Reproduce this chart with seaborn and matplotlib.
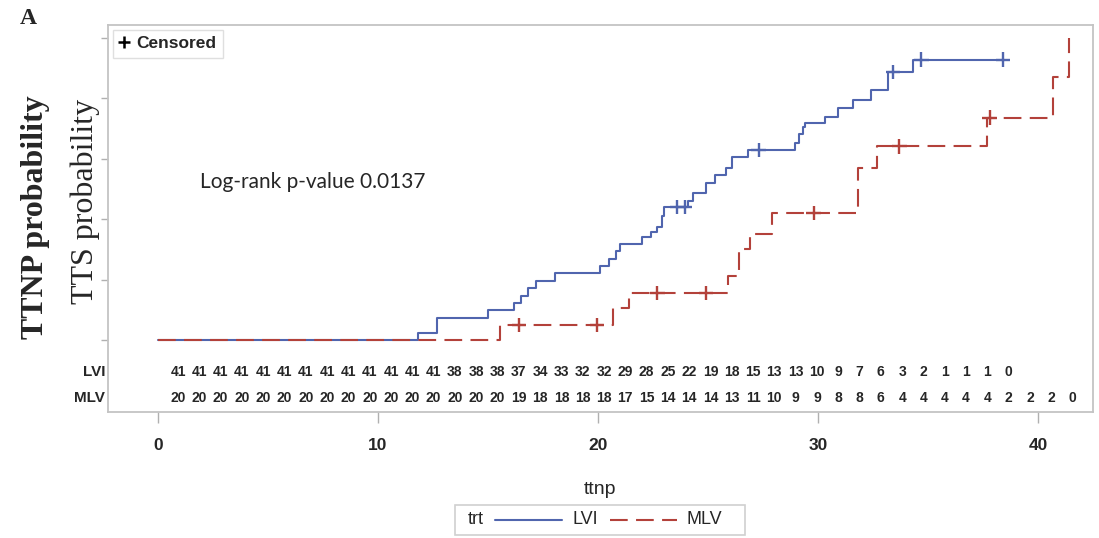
import numpy as np
import pandas as pd
import matplotlib
matplotlib.use("Agg")
import matplotlib.pyplot as plt
import matplotlib.transforms as mtransforms
from matplotlib.lines import Line2D
from matplotlib.patches import Rectangle
import seaborn as sns

# ---------------- data ----------------
groups = ["LVI", "MLV"]

lvi_times = [0, 11.8, 12.7, 15.0, 16.2, 16.5, 16.8, 17.2, 18.05, 20.1, 20.5, 20.8,
             21.0, 22.0, 22.4, 22.7, 22.9, 23.0, 24.1, 24.3, 24.9, 25.3, 25.8, 26.1,
             26.8, 28.95, 29.15, 29.3, 29.4, 30.3, 30.9, 31.6, 32.4, 33.2, 34.3, 38.4]
lvi_prob = [0, 0.024, 0.073, 0.098, 0.122, 0.146, 0.171, 0.195, 0.22, 0.244, 0.268, 0.293,
            0.317, 0.341, 0.356, 0.375, 0.41, 0.44, 0.46, 0.487, 0.52, 0.545, 0.57, 0.605,
            0.628, 0.65, 0.68, 0.705, 0.717, 0.737, 0.767, 0.793, 0.826, 0.886, 0.927, 0.927]
lvi_censor = [23.6, 23.95, 27.3, 33.4, 34.7, 38.4]

mlv_times = [0, 15.55, 20.7, 21.4, 25.9, 26.4, 26.9, 27.9, 31.8, 32.7, 37.7, 40.7, 41.4]
mlv_prob = [0, 0.05, 0.105, 0.156, 0.21, 0.30, 0.35, 0.42, 0.57, 0.64, 0.735, 0.87, 1.0]
mlv_censor = [16.4, 19.95, 22.7, 24.9, 29.8, 33.7, 37.8]

lvi_risk = [41, 41, 41, 41, 41, 41, 41, 41, 41, 41, 41, 41, 41, 38, 38, 38, 37, 34, 33,
            32, 32, 29, 28, 25, 22, 19, 18, 15, 13, 13, 10, 9, 7, 6, 3, 2, 1, 1, 1, 0]
mlv_risk = [20, 20, 20, 20, 20, 20, 20, 20, 20, 20, 20, 20, 20, 20, 20, 20, 19, 18, 18,
            18, 18, 17, 15, 14, 14, 14, 13, 11, 10, 9, 9, 8, 8, 6, 4, 4, 4, 4, 4, 2, 2, 2, 0]

x_ticks = [0, 10, 20, 30, 40]
y_ticks = [0.0, 0.2, 0.4, 0.6, 0.8, 1.0]
pvalue_text = "Log-rank p-value 0.0137"

# ---------------- styling ----------------
BLUE = "#5065ae"
RED = "#b3413a"
palette = {"LVI": BLUE, "MLV": RED}

sns.set_style("white")
plt.rcParams["font.family"] = ["Liberation Sans", "DejaVu Sans"]

W, H = 1099, 538
fig = plt.figure(figsize=(W / 100, H / 100), dpi=100)
L, R, T, B = 108, 1093, 25, 412
ax = fig.add_axes([L / W, 1 - B / H, (R - L) / W, (B - T) / H])

curves = pd.concat([
    pd.DataFrame({"time": lvi_times, "prob": lvi_prob, "trt": "LVI"}),
    pd.DataFrame({"time": mlv_times, "prob": mlv_prob, "trt": "MLV"}),
], ignore_index=True)

sns.lineplot(data=curves, x="time", y="prob", hue="trt", style="trt",
             palette=palette, dashes={"LVI": "", "MLV": (8.5, 4)},
             drawstyle="steps-post", estimator=None, sort=False,
             linewidth=1.5, legend=False, ax=ax)


def step_value(times, probs, t):
    idx = np.searchsorted(times, t, side="right") - 1
    return np.asarray(probs)[idx]


cens = pd.concat([
    pd.DataFrame({"time": lvi_censor, "prob": step_value(lvi_times, lvi_prob, lvi_censor), "trt": "LVI"}),
    pd.DataFrame({"time": mlv_censor, "prob": step_value(mlv_times, mlv_prob, mlv_censor), "trt": "MLV"}),
], ignore_index=True)
sns.scatterplot(data=cens, x="time", y="prob", hue="trt", palette=palette,
                marker="+", s=110, linewidth=1.7, legend=False, ax=ax, zorder=5)

# axes limits (lower part holds the at-risk table)
x_per_px = 1 / 22.0
y_per_px = 1 / 302.5
ax.set_xlim((L - 158) * x_per_px, (R - 158) * x_per_px)
ax.set_ylim((340 - B) * y_per_px, (340 - T) * y_per_px)

ax.set_xticks(x_ticks)
ax.set_xticklabels([str(v) for v in x_ticks], fontsize=12.5, fontweight="bold")
ax.set_yticks(y_ticks)
ax.set_yticklabels([])
ax.tick_params(axis="x", bottom=True, direction="out", length=8, width=1,
               color="#b0b0b0", pad=11)
ax.tick_params(axis="y", left=True, direction="out", length=5, width=1, color="#b0b0b0")
for sp in ax.spines.values():
    sp.set_color("#c4c4c4")
    sp.set_linewidth(1.3)
ax.set_xlabel("ttnp", fontsize=14, labelpad=20)
ax.set_ylabel("")

# at-risk table
risk_times = np.linspace(0.91, 41.57, len(mlv_risk))
trans = mtransforms.blended_transform_factory(ax.transData, ax.transAxes)
row_y = {"LVI": (B - 372) / (B - T), "MLV": (B - 398) / (B - T)}
for name, counts in (("LVI", lvi_risk), ("MLV", mlv_risk)):
    for t, n in zip(risk_times, counts):
        ax.text(t, row_y[name], str(n), transform=trans, ha="center", va="center",
                fontsize=10, fontweight="bold")
    fig.text(105 / W, 1 - (372 if name == "LVI" else 398) / H, name, ha="right",
             va="center", fontsize=11, fontweight="bold")

# p-value annotation
fig.text(200 / W, 1 - 182 / H, pvalue_text, ha="left", va="center",
         fontsize=15, family=["Lato", "DejaVu Sans"])

# censored legend
ax.legend(handles=[Line2D([], [], marker="+", color="black", linestyle="none",
                          markersize=8, mew=1.8)],
          labels=["Censored"], loc="upper left", frameon=True, fancybox=False,
          edgecolor="#d8d8d8", handlelength=0.6, handletextpad=0.4,
          borderpad=0.35, borderaxespad=0.3,
          prop={"weight": "bold", "size": 12.5})

# y labels and panel letter
fig.text(36 / W, 1 - 217 / H, "TTNP probability", rotation=90, ha="center", va="center",
         fontsize=23, fontweight="bold", family=["Liberation Serif", "DejaVu Serif"])
fig.text(85 / W, 1 - 201 / H, "TTS probability", rotation=90, ha="center", va="center",
         fontsize=23, family=["Liberation Serif", "DejaVu Serif"])
fig.text(28 / W, 1 - 19 / H, "A", ha="center", va="center", fontsize=17,
         fontweight="bold", family=["Liberation Serif", "DejaVu Serif"])

# bottom group legend (inline title)
box = Rectangle((455 / W, 1 - 535 / H), 290 / W, 30 / H, transform=fig.transFigure,
                facecolor="white", edgecolor="#d0d0d0", linewidth=1.2)
fig.add_artist(box)
ly = 1 - 520 / H
fig.text(468 / W, ly, "trt", ha="left", va="center", fontsize=13)
fig.add_artist(Line2D([495 / W, 562 / W], [ly, ly], transform=fig.transFigure,
                      color=BLUE, linewidth=1.5))
fig.text(572 / W, ly, "LVI", ha="left", va="center", fontsize=13)
fig.add_artist(Line2D([610 / W, 677 / W], [ly, ly], transform=fig.transFigure,
                      color=RED, linewidth=1.5, dashes=(8.5, 4)))
fig.text(686 / W, ly, "MLV", ha="left", va="center", fontsize=13)

fig.savefig("out.png", dpi=100)
